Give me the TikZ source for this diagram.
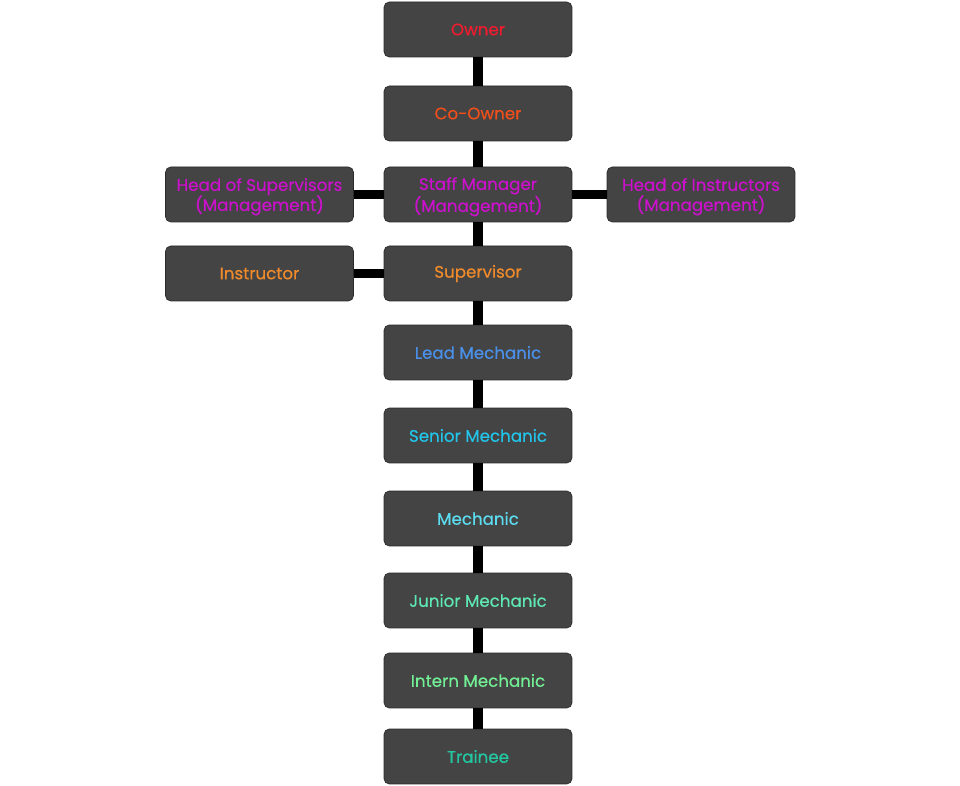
\documentclass[tikz,border=0pt]{standalone}
\usepackage{fontspec}
\setmainfont{Poppins}

\definecolor{boxfill}{HTML}{444444}
\definecolor{boxline}{HTML}{2A2A2A}
\definecolor{cowner}{HTML}{EE1C2E}
\definecolor{ccoowner}{HTML}{F04E1A}
\definecolor{cmanage}{HTML}{CC11CC}
\definecolor{csuper}{HTML}{F08A2A}
\definecolor{clead}{HTML}{4A90E8}
\definecolor{csenior}{HTML}{22C4EA}
\definecolor{cmech}{HTML}{5CDCF0}
\definecolor{cjunior}{HTML}{5EE8B4}
\definecolor{cintern}{HTML}{72EE94}
\definecolor{ctrainee}{HTML}{22C8A2}

\tikzset{
  rankbox/.style={draw=boxline, fill=boxfill, rounded corners=3pt,
    minimum width=3.76cm, minimum height=1.1cm, inner sep=1pt,
    align=center, font=\fontsize{9.5}{11.4}\selectfont\addfontfeature{FakeBold=0.5}},
  twoline/.style={rankbox, text depth=-3pt},
  link/.style={line width=5.6pt, black}
}

\begin{document}
\begin{tikzpicture}[x=0.02cm, y=-0.02cm]
\useasboundingbox (0, 0) rectangle (960, 786);

% The main column
\node[rankbox, text=cowner] (owner) at (478, 29.5) {Owner};
\node[rankbox, text=ccoowner] (coowner) at (478, 113.5) {Co-Owner};
\node[twoline, text=cmanage] (staff) at (478, 194.5) {Staff Manager\\(Management)};
\node[rankbox, text=csuper] (super) at (478, 273.5) {Supervisor};
\node[rankbox, text=clead] (lead) at (478, 352.5) {Lead Mechanic};
\node[rankbox, text=csenior] (senior) at (478, 435.5) {Senior Mechanic};
\node[rankbox, text=cmech] (mech) at (478, 518.5) {Mechanic};
\node[rankbox, text=cjunior] (junior) at (478, 600.5) {Junior Mechanic};
\node[rankbox, text=cintern] (intern) at (478, 680.5) {Intern Mechanic};
\node[rankbox, text=ctrainee] (trainee) at (478, 756.5) {Trainee};

% The side boxes
\node[twoline, text=cmanage] (headsup) at (259.5, 194.5) {Head of Supervisors\\(Management)};
\node[twoline, text=cmanage] (headins) at (701, 194.5) {Head of Instructors\\(Management)};
\node[rankbox, text=csuper] (instr) at (259.5, 273.5) {Instructor};

% Links down the column
\draw[link] (owner) -- (coowner);
\draw[link] (coowner) -- (staff);
\draw[link] (staff) -- (super);
\draw[link] (super) -- (lead);
\draw[link] (lead) -- (senior);
\draw[link] (senior) -- (mech);
\draw[link] (mech) -- (junior);
\draw[link] (junior) -- (intern);
\draw[link] (intern) -- (trainee);

% Links to the side
\draw[link] (headsup) -- (staff);
\draw[link] (staff) -- (headins);
\draw[link] (instr) -- (super);

\end{tikzpicture}
\end{document}
